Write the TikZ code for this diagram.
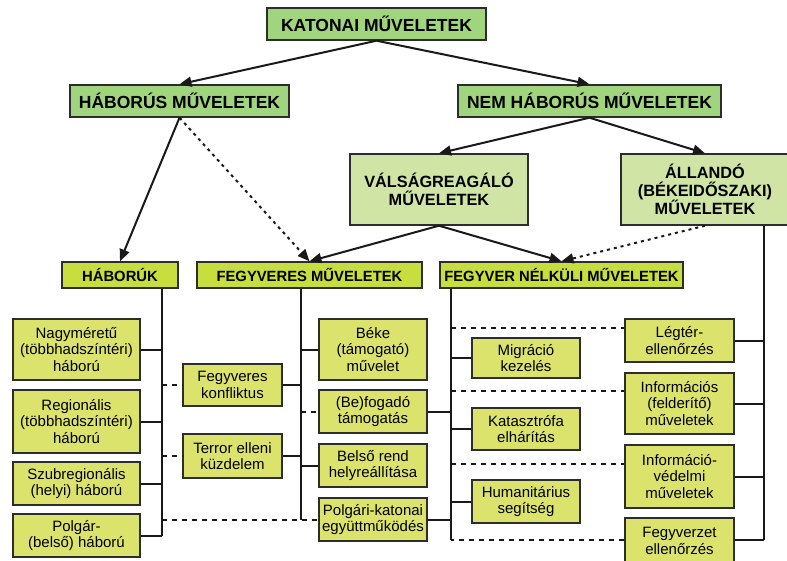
\documentclass[tikz,border=0pt]{standalone}
\usepackage{fontspec}
\setmainfont{Liberation Sans}
\usetikzlibrary{arrows.meta}
\definecolor{topgreen}{RGB}{160,213,126}
\definecolor{midgreen}{RGB}{208,228,165}
\definecolor{headyellow}{RGB}{200,221,62}
\definecolor{leafyellow}{RGB}{220,227,108}
\definecolor{boxline}{RGB}{45,45,45}
\tikzset{every picture/.style={
  >={Triangle[length=12pt,width=10pt]}   % Big filled arrow heads.
  }
}

\begin{document}
\begin{tikzpicture}[x=1pt,y=-1pt,
    box/.style={draw=boxline,line width=1.4pt,align=center,inner sep=0pt},
    topbox/.style={box,fill=topgreen,minimum height=32pt,
      font=\fontsize{17.5}{20}\selectfont\bfseries},
    midbox/.style={box,fill=midgreen,minimum height=71pt,
      font=\fontsize{16.3}{18}\selectfont\bfseries},
    headbox/.style={box,fill=headyellow,minimum height=26pt,
      font=\fontsize{14.8}{17}\selectfont\bfseries},
    leafbox/.style={box,fill=leafyellow,
      font=\fontsize{15}{16.6}\selectfont},
    ln/.style={line width=2pt,draw=black!90},
    dotln/.style={ln,dash pattern=on 3pt off 4pt},
    dashln/.style={ln,dash pattern=on 5pt off 5pt}
  ]
    \useasboundingbox (0,0) rectangle (787,560);

    % The upper levels.
    \node[topbox,minimum width=219pt] (kat) at (376.5,24) {KATONAI MŰVELETEK};
    \node[topbox,minimum width=219pt] (hab) at (179.5,101) {HÁBORÚS MŰVELETEK};
    \node[topbox,minimum width=263pt] (nem) at (589.5,101) {NEM HÁBORÚS MŰVELETEK};
    \node[midbox,minimum width=178pt] (val) at (439,189.5)
      {VÁLSÁGREAGÁLÓ\\MŰVELETEK};
    \node[midbox,minimum width=168pt] (all) at (705,189.5)
      {ÁLLANDÓ\\(BÉKEIDŐSZAKI)\\MŰVELETEK};

    % The three groups.
    \node[headbox,minimum width=116pt] (habk) at (120,275) {HÁBORÚK};
    \node[headbox,minimum width=225pt] (fegy) at (309.5,275) {FEGYVERES MŰVELETEK};
    \node[headbox,minimum width=243pt] (fnk) at (561.5,275)
      {FEGYVER NÉLKÜLI MŰVELETEK};

    % Arrows between the levels.
    \draw[ln,->] (kat.south) -- (hab.north);
    \draw[ln,->] (kat.south) -- (nem.north);
    \draw[ln,->] (nem.south) -- (val.north);
    \draw[ln,->] (nem.south) -- (all.north);
    \draw[ln,->] (hab.south) -- (habk.north);
    \draw[dotln,->] (hab.south) -- (fegy.north);
    \draw[ln,->] (val.south) -- (fegy.north);
    \draw[ln,->] (val.south) -- (fnk.north);
    \draw[dotln,->] (all.south) -- (fnk.north);

    % Wars.
    \node[leafbox,minimum width=127pt,minimum height=61pt] (nagy) at (76.5,349.5)
      {Nagyméretű\\(többhadszíntéri)\\háború};
    \node[leafbox,minimum width=127pt,minimum height=63pt] (reg) at (76.5,421.5)
      {Regionális\\(többhadszíntéri)\\háború};
    \node[leafbox,minimum width=127pt,minimum height=43pt] (szub) at (76.5,483.5)
      {Szubregionális\\(helyi) háború};
    \node[leafbox,minimum width=127pt,minimum height=43pt] (polg) at (76.5,535.5)
      {Polgár-\\(belső) háború};

    % Armed operations.
    \node[leafbox,minimum width=99pt,minimum height=42pt] (konf) at (232.5,385)
      {Fegyveres\\konfliktus};
    \node[leafbox,minimum width=99pt,minimum height=44pt] (terr) at (232.5,456)
      {Terror elleni\\küzdelem};
    \node[leafbox,minimum width=108pt,minimum height=61pt] (beke) at (373,349.5)
      {Béke\\(támogató)\\művelet};
    \node[leafbox,minimum width=108pt,minimum height=43pt] (befog) at (373,411.5)
      {(Be)fogadó\\támogatás};
    \node[leafbox,minimum width=108pt,minimum height=43pt] (belso) at (373,465.5)
      {Belső rend\\helyreállítása};
    \node[leafbox,minimum width=108pt,minimum height=43pt] (pk) at (373,519.5)
      {Polgári-katonai\\együttműködés};

    % Operations without arms.
    \node[leafbox,minimum width=108pt,minimum height=40pt] (migr) at (526,358)
      {Migráció\\kezelés};
    \node[leafbox,minimum width=108pt,minimum height=42pt] (katasz) at (526,429)
      {Katasztrófa\\elhárítás};
    \node[leafbox,minimum width=108pt,minimum height=43pt] (hum) at (526,501.5)
      {Humanitárius\\segítség};

    % Permanent operations.
    \node[leafbox,minimum width=109pt,minimum height=43pt] (legt) at (679.5,340.5)
      {Légtér-\\ellenőrzés};
    \node[leafbox,minimum width=109pt,minimum height=61pt] (infd) at (679.5,403.5)
      {Információs\\(felderítő)\\műveletek};
    \node[leafbox,minimum width=109pt,minimum height=63pt] (infv) at (679.5,476.5)
      {Információ-\\védelmi\\műveletek};
    \node[leafbox,minimum width=109pt,minimum height=46pt] (fegyz) at (679.5,541)
      {Fegyverzet\\ellenőrzés};

    % Trunk lines.
    \coordinate (hb) at (162,535.5);
    \coordinate (fb) at (301,519.5);
    \coordinate (nb) at (451,540);
    \coordinate (ab) at (764,540);
    \draw[ln] (habk.south -| hb) -- (hb);
    \draw[ln] (fegy.south -| fb) -- (fb);
    \draw[ln] (fnk.south -| nb) -- (nb);
    \draw[ln] (all.south -| ab) -- (ab);

    % Solid branches.
    \foreach \n in {nagy,reg,szub,polg}
      \draw[ln] (\n.east) -- (\n.east -| hb);
    \foreach \n in {konf,terr}
      \draw[ln] (\n.east) -- (\n.east -| fb);
    \foreach \n in {beke,belso}
      \draw[ln] (\n.west) -- (\n.west -| fb);
    \foreach \n in {befog,pk}
      \draw[ln] (\n.east) -- (\n.east -| nb);
    \foreach \n in {migr,katasz,hum}
      \draw[ln] (\n.west) -- (\n.west -| nb);
    \foreach \n in {legt,infd,infv}
      \draw[ln] (\n.east) -- (\n.east -| ab);
    \draw[ln] (fegyz.east |- ab) -- (ab);

    % Dashed cross links.
    \foreach \n in {konf,terr,pk}
      \draw[dashln] (\n.west -| hb) -- (\n.west);
    \draw[dashln] (befog.west -| fb) -- (befog.west);
    \draw[dashln] ([yshift=-10pt]legt.north west -| nb)
      -- ([yshift=-10pt]legt.north west);
    \draw[dashln] ([yshift=-19pt]infd.north west -| nb)
      -- ([yshift=-19pt]infd.north west);
    \draw[dashln] ([yshift=-20pt]infv.north west -| nb)
      -- ([yshift=-20pt]infv.north west);
    \draw[dashln] (fegyz.west |- nb) -- (nb);
  \end{tikzpicture}
\end{document}
